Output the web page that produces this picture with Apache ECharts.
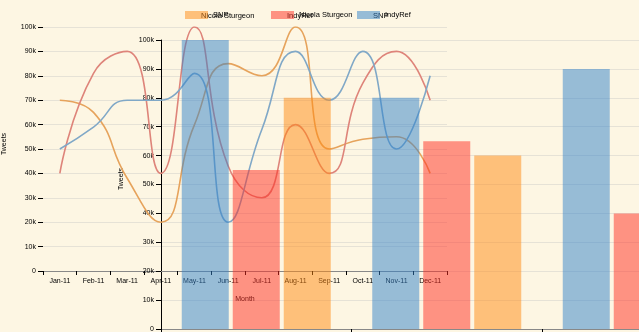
<!DOCTYPE html>
<html>
<head>
<meta charset="utf-8">
<script src="https://cdn.jsdelivr.net/npm/echarts@6/dist/echarts.min.js"></script>
<style>
html,body{margin:0;padding:0;background:#fdf6e3;}
#chart{width:639px;height:332px;}
</style>
</head>
<body>
<div id="chart"></div>
<script>
// ---- data ----
const months = ['Jan-11','Feb-11','Mar-11','Apr-11','May-11','Jun-11','Jul-11','Aug-11','Sep-11','Oct-11','Nov-11','Dec-11'];
const lineNicola  = [70000, 65000, 38000, 20000, 60000, 85000, 80000, 100000, 50000, 54000, 55000, 40000];
const lineIndyRef = [40000, 81000, 90000, 40000, 100000, 43000, 30000, 60000, 40000, 77000, 90000, 70000];
const lineSNP     = [50000, 59000, 70000, 70000, 81000, 20000, 58000, 90000, 70000, 90000, 50000, 80000];
const barGroups = ['Group 1','Group 2','Group 3'];
const barBlue   = [100000, 80000, 90000];
const barRed    = [55000, 65000, 40000];
const barOrange = [80000, 60000, 70000];
const legendUnder = ['Nicola Sturgeon','IndyRef','SNP'];
const legendOver  = ['SNP','Nicola Sturgeon','IndyRef'];

const FONT = 'Liberation Sans, Arial, sans-serif';
const C_ORANGE_LINE = '#e6a35c', C_RED_LINE = '#de847a', C_BLUE_LINE = '#80a8c7';
const C_BLUE_BAR = 'rgba(49,130,201,0.5)', C_RED_BAR = 'rgba(255,46,33,0.5)', C_ORANGE_BAR = 'rgba(255,138,17,0.5)';
const swatchColors = [C_ORANGE_BAR, C_RED_BAR, C_BLUE_BAR];
const legendLeft = [185, 271, 357];
const kfmt = v => v === 0 ? '0' : (v / 1000) + 'k';
const gridColor = '#e6e2d6';

const chart = echarts.init(document.getElementById('chart'), null, {renderer: 'canvas'});

const legends = legendOver.map((n, i) => ({
  data: [{name: n, itemStyle: {color: swatchColors[i], opacity: 1}}],
  left: legendLeft[i], top: 11, padding: 0,
  itemWidth: 23, itemHeight: 8, icon: 'rect', selectedMode: false,
  textStyle: {fontSize: 7.5, color: '#000', fontFamily: FONT}
}));

const graphicTexts = legendUnder.map((n, i) => ({
  type: 'text', left: legendLeft[i] + 16, top: 11.5, z: 0,
  style: {text: n, fontSize: 7.5, fill: '#000', fontFamily: FONT}
}));

const option = {
  backgroundColor: '#fdf6e3',
  animation: false,
  textStyle: {fontFamily: FONT},
  legend: legends,
  graphic: graphicTexts,
  grid: [
    {left: 43, top: 27, width: 404, height: 244, outerBoundsMode: 'none', containLabel: false},
    {left: 161, top: 40, width: 571.5, height: 289, outerBoundsMode: 'none', containLabel: false}
  ],
  xAxis: [
    {type: 'category', gridIndex: 0, data: months, boundaryGap: true,
     axisLine: {lineStyle: {color: '#888', width: 1}},
     axisTick: {show: true, length: 4, lineStyle: {color: '#000'}},
     axisLabel: {fontSize: 7, color: '#000', margin: 7, interval: 0, fontFamily: FONT},
     name: 'Month', nameLocation: 'middle', nameGap: 25,
     nameTextStyle: {fontSize: 7, color: '#000', fontFamily: FONT}},
    {type: 'category', gridIndex: 1, data: barGroups, boundaryGap: true,
     axisLine: {lineStyle: {color: '#888', width: 1}},
     axisTick: {show: true, length: 4, lineStyle: {color: '#000'}},
     axisLabel: {show: false}}
  ],
  yAxis: [
    {type: 'value', gridIndex: 0, min: 0, max: 100000, interval: 10000,
     axisLine: {show: false},
     axisTick: {show: true, length: 5, lineStyle: {color: '#000'}},
     axisLabel: {fontSize: 7, color: '#000', margin: 7, formatter: kfmt, fontFamily: FONT},
     splitLine: {lineStyle: {color: gridColor, width: 1}},
     name: 'Tweets', nameLocation: 'middle', nameGap: 35,
     nameTextStyle: {fontSize: 7, color: '#000', fontFamily: FONT, padding: [0, 0, 0, 10]}},
    {type: 'value', gridIndex: 1, min: 0, max: 100000, interval: 10000,
     axisLine: {show: true, lineStyle: {color: '#000', width: 1}},
     axisTick: {show: true, length: 5, lineStyle: {color: '#000'}},
     axisLabel: {fontSize: 7, color: '#000', margin: 7, formatter: kfmt, fontFamily: FONT},
     splitLine: {lineStyle: {color: gridColor, width: 1}},
     name: 'Tweets', nameLocation: 'middle', nameGap: 36,
     nameTextStyle: {fontSize: 7, color: '#000', fontFamily: FONT, padding: [0, 0, 0, 11]}}
  ],
  series: [
    {name: 'Nicola Sturgeon', type: 'line', xAxisIndex: 0, yAxisIndex: 0, data: lineNicola,
     smooth: 0.5, showSymbol: false, z: 2, lineStyle: {color: C_ORANGE_LINE, width: 1.6}, itemStyle: {color: C_ORANGE_LINE}},
    {name: 'IndyRef', type: 'line', xAxisIndex: 0, yAxisIndex: 0, data: lineIndyRef,
     smooth: 0.5, showSymbol: false, z: 2, lineStyle: {color: C_RED_LINE, width: 1.6}, itemStyle: {color: C_RED_LINE}},
    {name: 'SNP', type: 'line', xAxisIndex: 0, yAxisIndex: 0, data: lineSNP,
     smooth: 0.5, showSymbol: false, z: 2, lineStyle: {color: C_BLUE_LINE, width: 1.6}, itemStyle: {color: C_BLUE_LINE}},
    {name: 'IndyRef', type: 'bar', xAxisIndex: 1, yAxisIndex: 1, data: barBlue, z: 3,
     barWidth: 47, barGap: '8.5%', itemStyle: {color: C_BLUE_BAR}},
    {name: 'Nicola Sturgeon', type: 'bar', xAxisIndex: 1, yAxisIndex: 1, data: barRed, z: 3,
     barWidth: 47, barGap: '8.5%', itemStyle: {color: C_RED_BAR}},
    {name: 'SNP', type: 'bar', xAxisIndex: 1, yAxisIndex: 1, data: barOrange, z: 3,
     barWidth: 47, barGap: '8.5%', itemStyle: {color: C_ORANGE_BAR}}
  ]
};
chart.setOption(option);
</script>
</body>
</html>
